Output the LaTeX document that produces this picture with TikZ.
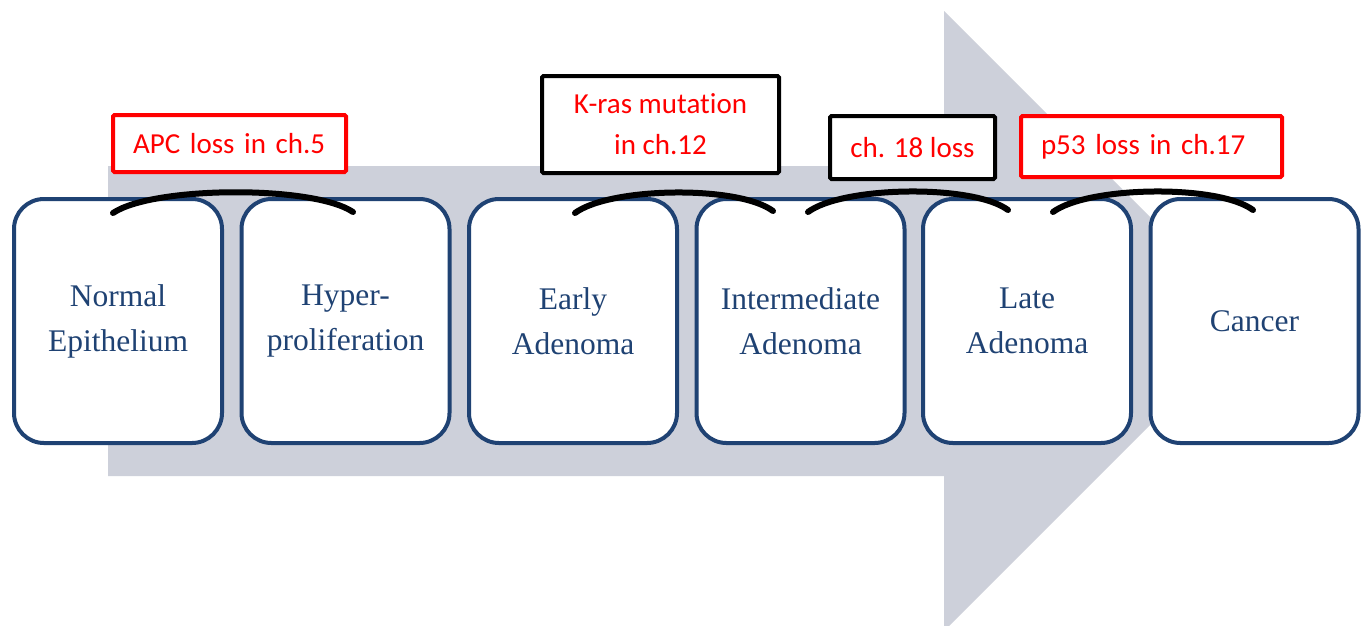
\documentclass[tikz,border=0pt]{standalone}
\usepackage{fontspec}
\setmainfont{Liberation Serif}
\newfontfamily\labfont[Ligatures=NoCommon]{Carlito}
\definecolor{shaftgrey}{HTML}{CDD0DA}
\definecolor{stageblue}{HTML}{1F4273}
\definecolor{labred}{HTML}{FF0000}
\tikzset{
  stage/.style={draw=stageblue, line width=4pt, fill=white, rounded corners=30pt,
    minimum width=208pt, minimum height=244pt, align=center, text=stageblue,
    font=\fontsize{31.5}{45}\selectfont, inner sep=0pt},
  labbox/.style={fill=white, line width=4pt, rounded corners=1.5pt, text=labred,
    font=\labfont\fontsize{29}{41}\selectfont, inner sep=0pt},
  redbox/.style={labbox, draw=labred, inner xsep=20pt},
  blackbox/.style={labbox, draw=black},
  hinge/.style={draw=black, line width=6pt, line cap=round}
}
\begin{document}
\begin{tikzpicture}[x=1pt,y=-1pt]
\clip (0,0) rectangle (1370,625);
\fill[white] (0,0) rectangle (1370,625);
% big arrow
\fill[shaftgrey] (108,166) -- (944,166) -- (944,11) -- (1254,321) -- (944,631)
  -- (944,476) -- (108,476) -- cycle;
% stages
\node[stage] (n1) at (118,321) {Normal\\Epithelium};
\node[stage] (n2) at (345.5,321) {Hyper-\\proliferation};
\node[stage] (n3) at (573,321) {Early\\Adenoma};
\node[stage] (n4) at (800.5,321) {Intermediate\\Adenoma};
\node[stage] (n5) at (1027,321) {Late\\Adenoma};
\node[stage] (n6) at (1254.5,321) {Cancer};
% labels
\node[redbox, minimum width=233pt, minimum height=57pt, text width=193pt, align=left]
  (l1) at (229.5,143.5) {APC loss in ch.5};
\node[blackbox, minimum width=237pt, minimum height=97pt, align=center]
  (l2) at (660.5,124.5) {K-ras mutation\\in ch.12};
\node[blackbox, minimum width=165pt, minimum height=63pt, align=center]
  (l3) at (912.5,147.5) {ch. 18 loss};
\node[redbox, minimum width=261pt, minimum height=61pt, text width=221pt, align=left]
  (l4) at (1151.5,146.5) {p53 loss in ch.17};
% hinges
\coordinate (a1) at (113,213); \coordinate (b1) at (353,212);
\coordinate (a2) at (575,213); \coordinate (b2) at (773,211);
\coordinate (a3) at (808,212); \coordinate (b3) at (1008,210);
\coordinate (a4) at (1053,212); \coordinate (b4) at (1253,210);
\draw[hinge] (a1) .. controls +(40,-27) and +(-40,-27) .. (b1);
\draw[hinge] (a2) .. controls +(35,-26) and +(-35,-26) .. (b2);
\draw[hinge] (a3) .. controls +(35,-26) and +(-35,-26) .. (b3);
\draw[hinge] (a4) .. controls +(35,-26) and +(-35,-26) .. (b4);
\end{tikzpicture}
\end{document}
